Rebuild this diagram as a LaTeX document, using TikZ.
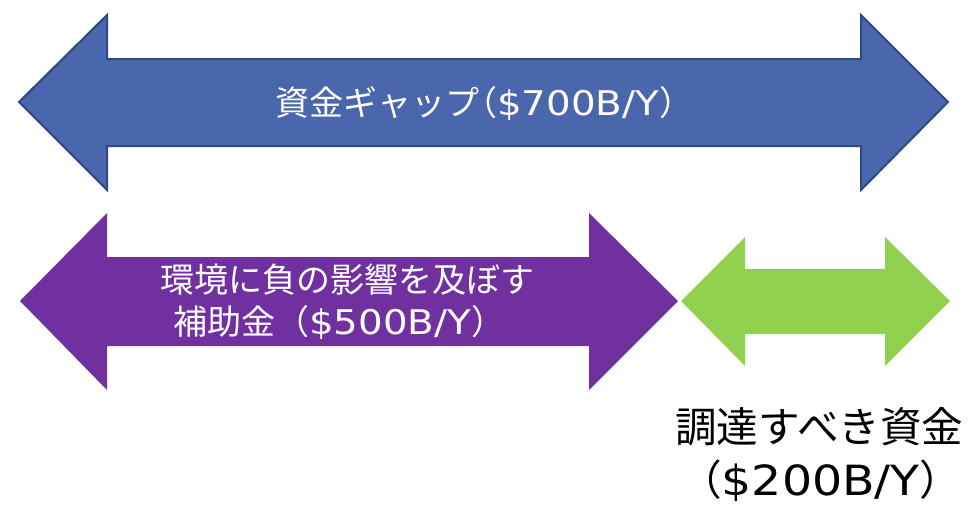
\documentclass[tikz,border=0pt]{standalone}
\usepackage{fontspec}
\setmainfont{Noto Sans CJK JP}
\newfontfamily\lat[FakeStretch=1.14]{DejaVu Sans}
\definecolor{bluefill}{HTML}{4A66AC}
\definecolor{blueline}{HTML}{2F4A80}
\definecolor{purplefill}{HTML}{7030A0}
\definecolor{greenfill}{HTML}{92D050}
\tikzset{
  bluearrow/.style={fill=bluefill, draw=blueline, line width=2pt, line join=miter},
  purplearrow/.style={fill=purplefill, draw=none},
  greenarrow/.style={fill=greenfill, draw=none},
  lbl/.style={inner sep=0pt, anchor=west, font=\fontsize{34}{40}\selectfont},
  biglbl/.style={lbl, text=black, font=\fontsize{41.6}{47}\selectfont},
}
\begin{document}
\begin{tikzpicture}[x=1pt,y=-1pt]
\useasboundingbox (0,0) rectangle (974,506);
\path[bluearrow] (19,102) -- (107,15) -- (107,59) -- (861,59) -- (861,15) -- (948,102) -- (861,190) -- (861,146) -- (107,146) -- (107,190) -- cycle;
\path[purplearrow] (20,301) -- (107,213) -- (107,257) -- (589,257) -- (589,213) -- (678,301) -- (589,390) -- (589,346) -- (107,346) -- (107,390) -- cycle;
\path[greenarrow] (681,301) -- (745,237) -- (745,269) -- (885,269) -- (885,237) -- (950,301) -- (885,366) -- (885,334) -- (745,334) -- (745,366) -- cycle;
\node[lbl, text=white] (gap) at (275,103) {資金ギャップ\kern-16pt（{\lat\$700B/Y}）};
\node[lbl, text=white] (sub1) at (160,280) {環境に負の影響を及ぼす};
\node[lbl, text=white] (sub2) at (173,322) {補助金（{\lat\$500B/Y}）};
\node[biglbl] (need1) at (675,427) {調達すべき資金};
\node[biglbl] (need2) at (680,481) {（{\lat\$200B/Y}）};
\end{tikzpicture}
\end{document}
